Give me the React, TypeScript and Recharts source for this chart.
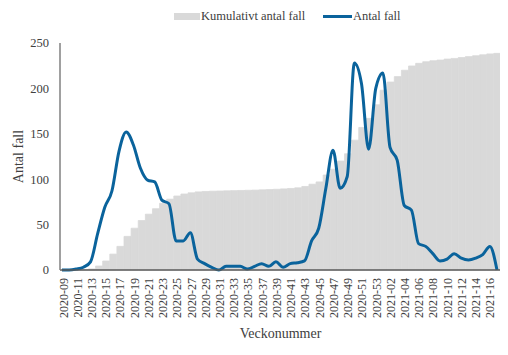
import React from "react";
import {
  ComposedChart,
  Bar,
  Line,
  XAxis,
  YAxis,
  Legend,
} from "recharts";

const veckor = [
  "2020-09", "2020-10", "2020-11", "2020-12", "2020-13", "2020-14", "2020-15", "2020-16",
  "2020-17", "2020-18", "2020-19", "2020-20", "2020-21", "2020-22", "2020-23", "2020-24",
  "2020-25", "2020-26", "2020-27", "2020-28", "2020-29", "2020-30", "2020-31", "2020-32",
  "2020-33", "2020-34", "2020-35", "2020-36", "2020-37", "2020-38", "2020-39", "2020-40",
  "2020-41", "2020-42", "2020-43", "2020-44", "2020-45", "2020-46", "2020-47", "2020-48",
  "2020-49", "2020-50", "2020-51", "2020-52", "2020-53", "2021-01", "2021-02", "2021-03",
  "2021-04", "2021-05", "2021-06", "2021-07", "2021-08", "2021-09", "2021-10", "2021-11",
  "2021-12", "2021-13", "2021-14", "2021-15", "2021-16", "2021-17",
];

const antalFall = [
  0, 0, 1, 3, 9, 40, 69, 87, 131, 152,
  138, 112, 99, 97, 77, 73, 32, 32, 41, 12,
  7, 3, 0, 4, 4, 4, 1, 4, 7, 4,
  9, 3, 7, 8, 10, 32, 46, 90, 132, 90,
  103, 228, 205, 133, 200, 217, 135, 121, 71, 66,
  29, 26, 18, 10, 12, 18, 13, 11, 13, 17,
  26, 0,
];

const kumulativt = [
  0, 0, 0.1, 0.4, 1.2, 4.4, 9.9, 17.5, 26, 37,
  46, 54.5, 61.5, 67.5, 73.5, 78, 81.5, 83.7, 85, 86,
  86.5, 86.8, 87, 87.2, 87.4, 87.6, 87.8, 88, 88.3, 88.6,
  88.9, 89.3, 89.8, 90.5, 92, 94.5, 97, 104.6, 111, 120,
  128, 143, 157, 167, 182, 198, 207, 213, 220, 224.7,
  227.6, 229.4, 230.5, 231.2, 232.3, 233, 234, 235, 236, 237,
  238, 238.6,
];

const yTicks = [0, 50, 100, 150, 200, 250];

const data = veckor.map((vecka, i) => ({
  vecka,
  antal: antalFall[i],
  kumulativt: kumulativt[i],
}));

const BLUE = "#0a639c";
const GREY = "#d9d9d9";
const TEXT = "#404040";
const FONT = '"Liberation Serif", serif';

const VeckaTick = (props: any) => {
  const { x, y, payload } = props;
  return (
    <text
      x={x}
      y={y}
      transform={`rotate(-90 ${x} ${y})`}
      textAnchor="end"
      dominantBaseline="central"
      fontSize={12}
      fontFamily={FONT}
      fill={TEXT}
    >
      {payload.value}
    </text>
  );
};

const renderLegend = () => (
  <div style={{ position: "relative", width: 508, height: 20, fontFamily: FONT, fontSize: 12.5, color: TEXT }}>
    <span style={{ position: "absolute", left: 174, top: 7, width: 26, height: 7, background: GREY }} />
    <span style={{ position: "absolute", left: 201, top: 0, lineHeight: "20px", whiteSpace: "nowrap" }}>
      Kumulativt antal fall
    </span>
    <span style={{ position: "absolute", left: 323, top: 9, width: 29, height: 3, background: BLUE }} />
    <span style={{ position: "absolute", left: 353, top: 0, lineHeight: "20px", whiteSpace: "nowrap" }}>
      Antal fall
    </span>
  </div>
);

export default function App() {
  return (
    <div style={{ marginLeft: -8, marginTop: -8, width: 508, height: 355, background: "#fff" }}>
      <ComposedChart
        width={508}
        height={355}
        data={data}
        margin={{ top: 43, right: 6, bottom: 0, left: 0 }}
        barCategoryGap={0}
        barGap={0}
        style={{ fontFamily: FONT }}
      >
        <XAxis
          xAxisId="bar"
          dataKey="vecka"
          interval={1}
          height={85}
          tick={<VeckaTick />}
          tickLine={false}
          tickSize={0}
          tickMargin={8}
          axisLine={{ stroke: "#595959", strokeWidth: 1.5 }}
          label={{
            value: "Veckonummer",
            position: "insideBottom",
            offset: 17,
            style: { fontSize: 14, fontFamily: FONT, fill: TEXT },
          }}
        />
        <XAxis
          xAxisId="line"
          dataKey="vecka"
          scale="point"
          padding={{ left: 2, right: 4 }}
          hide
        />
        <YAxis
          yAxisId="left"
          width={60}
          domain={[0, 250]}
          ticks={yTicks}
          tickLine={false}
          tickSize={0}
          tickMargin={11}
          axisLine={{ stroke: "#808080", strokeWidth: 1.5 }}
          tick={{ fontSize: 12.5, fontFamily: FONT, fill: TEXT }}
          label={{
            value: "Antal fall",
            angle: -90,
            position: "insideLeft",
            offset: 18,
            style: { textAnchor: "middle", fontSize: 14, fontFamily: FONT, fill: TEXT },
          }}
        />
        <YAxis
          yAxisId="right"
          orientation="right"
          width={1}
          domain={[0, 250]}
          tick={false}
          tickLine={false}
          axisLine={{ stroke: "#808080", strokeWidth: 1.5 }}
        />
        <Legend
          verticalAlign="middle"
          align="center"
          layout="horizontal"
          wrapperStyle={{ top: 6, left: 0, width: 508 }}
          content={renderLegend}
        />
        <Bar
          xAxisId="bar"
          yAxisId="right"
          dataKey="kumulativt"
          name="Kumulativt antal fall"
          fill={GREY}
          stroke={GREY}
          strokeWidth={0.8}
          isAnimationActive={false}
        />
        <Line
          xAxisId="line"
          yAxisId="left"
          dataKey="antal"
          name="Antal fall"
          type="monotone"
          stroke={BLUE}
          strokeWidth={3}
          dot={false}
          activeDot={false}
          isAnimationActive={false}
        />
      </ComposedChart>
    </div>
  );
}
